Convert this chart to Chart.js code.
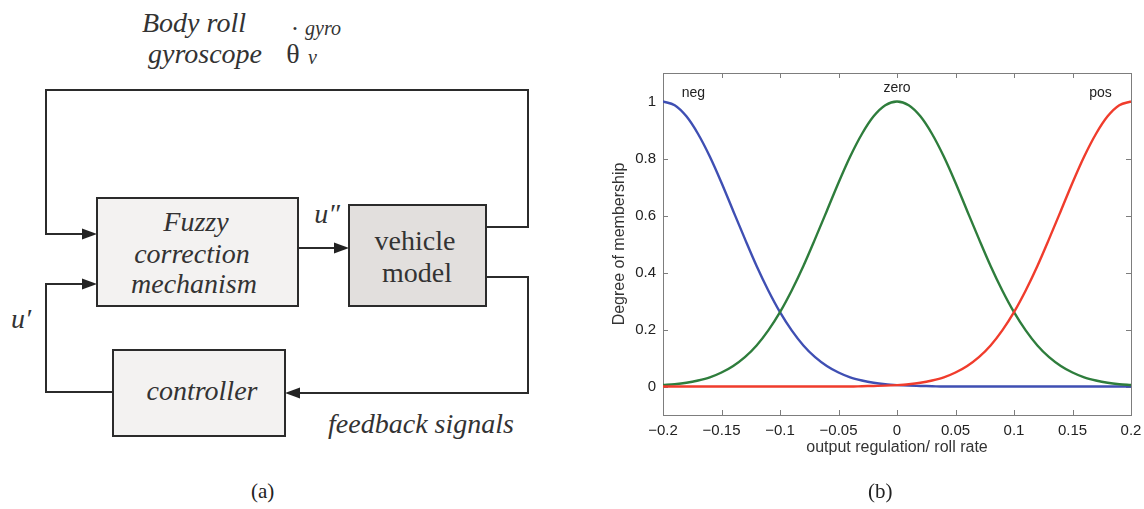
<!DOCTYPE html>
<html>
<head>
<meta charset="utf-8">
<script src="https://cdn.jsdelivr.net/npm/chart.js@4/dist/chart.umd.min.js"></script>
<style>
  body { margin: 0; background: #fff; }
  #page { position: relative; width: 1144px; height: 509px; overflow: hidden; background: #fff; }
  #diagram { position: absolute; left: 0; top: 0; }
  #diagram text { font-family: "Liberation Serif", "Times New Roman", serif; fill: #333; }
  #diagram .it { font-style: italic; font-size: 28px; }
  #diagram .up { font-size: 28px; }
  #diagram .sm { font-style: italic; font-size: 20px; }
  #wrap { position: absolute; left: 560px; top: 0; width: 584px; height: 509px; }
  .cap { position: absolute; font-family: "Liberation Serif", serif; font-size: 21px; color: #222; }
</style>
</head>
<body>
<div id="page">
  <svg id="diagram" width="560" height="509" xmlns="http://www.w3.org/2000/svg">
    <g fill="none" stroke="#2b2b2b" stroke-width="2">
      <polyline points="486,227 528,227 528,90 46,90 46,234 84,234" />
      <polyline points="113,392 46,392 46,284 84,284" />
      <line x1="298" y1="248" x2="336" y2="248" />
      <polyline points="486,277 528,277 528,393 298,393" />
    </g>
    <g fill="#222">
      <polygon points="97,234 82,228.5 82,239.5" />
      <polygon points="97,284 82,278.5 82,289.5" />
      <polygon points="349,248 334,242.5 334,253.5" />
      <polygon points="285,393 300,387.5 300,398.5" />
    </g>
    <rect x="97" y="198" width="201" height="108" fill="#f3f2f1" stroke="#2b2b2b" stroke-width="2" />
    <rect x="349" y="205" width="137" height="101" fill="#e2dfdd" stroke="#2b2b2b" stroke-width="2" />
    <rect x="113" y="350" width="172" height="86" fill="#f3f2f1" stroke="#2b2b2b" stroke-width="2" />
    <g text-anchor="middle">
      <text class="it" x="194" y="32">Body roll</text>
      <text class="it" x="205" y="63">gyroscope</text>
      <text class="it" x="196" y="231">Fuzzy</text>
      <text class="it" x="192" y="263">correction</text>
      <text class="it" x="194" y="293">mechanism</text>
      <text class="it" x="202" y="400">controller</text>
      <text class="it" x="421" y="433">feedback signals</text>
      <text class="it" x="327" y="223">u″</text>
      <text class="it" x="21" y="328">u′</text>
      <text class="up" x="415" y="250">vehicle</text>
      <text class="up" x="417" y="282">model</text>
      <text class="up" x="293" y="63">θ</text>
      <text class="up" x="295" y="45">˙</text>
    </g>
    <text class="sm" x="305" y="35">gyro</text>
    <text class="sm" x="308" y="64">v</text>
  </svg>
  <div class="cap" style="left:251px;top:479px;">(a)</div>
  <div id="wrap"><canvas id="myChart"></canvas></div>
  <div class="cap" style="left:868px;top:479px;">(b)</div>
</div>
<script>
// sample positions along the x axis
var xValues = [-0.2, -0.19, -0.18, -0.17, -0.16, -0.15, -0.14, -0.13, -0.12, -0.11,
  -0.1, -0.09, -0.08, -0.07, -0.06, -0.05, -0.04, -0.03, -0.02, -0.01,
  0, 0.01, 0.02, 0.03, 0.04, 0.05, 0.06, 0.07, 0.08, 0.09,
  0.1, 0.11, 0.12, 0.13, 0.14, 0.15, 0.16, 0.17, 0.18, 0.19, 0.2];

// membership values
var negValues = [1.000, 0.987, 0.948, 0.886, 0.807, 0.715, 0.616, 0.518, 0.423, 0.337,
  0.261, 0.197, 0.144, 0.103, 0.072, 0.049, 0.032, 0.021, 0.013, 0.008,
  0.005, 0.003, 0.002, 0.001, 0, 0, 0, 0, 0, 0,
  0, 0, 0, 0, 0, 0, 0, 0, 0, 0, 0];
var zeroValues = [0.005, 0.008, 0.013, 0.021, 0.032, 0.049, 0.072, 0.103, 0.144, 0.197,
  0.261, 0.337, 0.423, 0.518, 0.616, 0.715, 0.807, 0.886, 0.948, 0.987,
  1.000, 0.987, 0.948, 0.886, 0.807, 0.715, 0.616, 0.518, 0.423, 0.337,
  0.261, 0.197, 0.144, 0.103, 0.072, 0.049, 0.032, 0.021, 0.013, 0.008, 0.005];
var posValues = [0, 0, 0, 0, 0, 0, 0, 0, 0, 0,
  0, 0, 0, 0, 0, 0, 0, 0.001, 0.002, 0.003,
  0.005, 0.008, 0.013, 0.021, 0.032, 0.049, 0.072, 0.103, 0.144, 0.197,
  0.261, 0.337, 0.423, 0.518, 0.616, 0.715, 0.807, 0.886, 0.948, 0.987, 1.000];

var xTicks = [-0.2, -0.15, -0.1, -0.05, 0, 0.05, 0.1, 0.15, 0.2];
var xTickLabels = ['\u22120.2', '\u22120.15', '\u22120.1', '\u22120.05', '0', '0.05', '0.1', '0.15', '0.2'];
var yTicks = [0, 0.2, 0.4, 0.6, 0.8, 1];
var yTickLabels = ['0', '0.2', '0.4', '0.6', '0.8', '1'];

var curveNames = ['neg', 'zero', 'pos'];
var curveLabelX = [-0.174, 0, 0.174];
var curveLabelY = [1.03, 1.048, 1.03];

function toPoints(ys) {
    return xValues.map(function (x, i) { return { x: x, y: ys[i] }; });
}

// box round the plot with inward ticks on all sides, plus curve names
var frameTicks = {
    id: 'frameTicks',
    beforeDatasetsDraw: function (chart) {
        var ctx = chart.ctx, a = chart.chartArea;
        var xs = chart.scales.x, ys = chart.scales.y;
        ctx.save();
        ctx.strokeStyle = '#7d7d7d';
        ctx.lineWidth = 1;
        ctx.strokeRect(Math.round(a.left) + 0.5, Math.round(a.top) + 0.5,
            Math.round(a.right - a.left), Math.round(a.bottom - a.top));
        ctx.beginPath();
        xTicks.forEach(function (v) {
            var px = Math.round(xs.getPixelForValue(v)) + 0.5;
            ctx.moveTo(px, a.bottom); ctx.lineTo(px, a.bottom - 5);
            ctx.moveTo(px, a.top); ctx.lineTo(px, a.top + 5);
        });
        yTicks.forEach(function (v) {
            var py = Math.round(ys.getPixelForValue(v)) + 0.5;
            ctx.moveTo(a.left, py); ctx.lineTo(a.left + 5, py);
            ctx.moveTo(a.right, py); ctx.lineTo(a.right - 5, py);
        });
        ctx.stroke();
        ctx.restore();
    },
    afterDatasetsDraw: function (chart) {
        var ctx = chart.ctx;
        ctx.save();
        ctx.fillStyle = '#222';
        ctx.font = '14px "Liberation Sans", Arial, sans-serif';
        ctx.textAlign = 'center';
        ctx.textBaseline = 'middle';
        curveNames.forEach(function (name, i) {
            ctx.fillText(name, chart.scales.x.getPixelForValue(curveLabelX[i]),
                chart.scales.y.getPixelForValue(curveLabelY[i]));
        });
        ctx.restore();
    }
};

var tickFont = { family: '"Liberation Sans", Arial, sans-serif', size: 15 };
var titleFont = { family: '"Liberation Sans", Arial, sans-serif', size: 16 };

var ctx = document.getElementById('myChart').getContext('2d');
var chart = new Chart(ctx, {
    type: 'line',
    data: {
        datasets: [{
            label: 'neg',
            data: toPoints(negValues),
            borderColor: '#3f4fb3',
            order: 2
        }, {
            label: 'zero',
            data: toPoints(zeroValues),
            borderColor: '#2e7d3c',
            order: 1
        }, {
            label: 'pos',
            data: toPoints(posValues),
            borderColor: '#f03c2c',
            order: 0
        }]
    },
    options: {
        responsive: true,
        maintainAspectRatio: false,
        animation: false,
        layout: { padding: { left: 47, right: 13, top: 73, bottom: 44 } },
        elements: {
            point: { radius: 0 },
            line: { borderWidth: 2.4, cubicInterpolationMode: 'monotone', fill: false }
        },
        plugins: {
            legend: { display: false },
            tooltip: { enabled: false }
        },
        scales: {
            x: {
                type: 'linear',
                min: -0.2,
                max: 0.2,
                grid: { display: false, drawTicks: false },
                border: { display: false },
                afterBuildTicks: function (scale) {
                    scale.ticks = xTicks.map(function (v) { return { value: v }; });
                },
                afterFit: function (scale) {
                    scale.height = 50;
                    scale.paddingLeft = 0;
                    scale.paddingRight = 0;
                },
                ticks: {
                    padding: 7,
                    color: '#222',
                    font: tickFont,
                    maxRotation: 0,
                    autoSkip: false,
                    callback: function (value, index) { return xTickLabels[index]; }
                },
                title: {
                    display: true,
                    text: 'output regulation/ roll rate',
                    color: '#333',
                    font: titleFont,
                    padding: { top: 0, bottom: 8 }
                }
            },
            y: {
                min: -0.1,
                max: 1.1,
                grid: { display: false, drawTicks: false },
                border: { display: false },
                afterBuildTicks: function (scale) {
                    scale.ticks = yTicks.map(function (v) { return { value: v }; });
                },
                afterFit: function (scale) {
                    scale.width = 56;
                    scale.paddingTop = 0;
                    scale.paddingBottom = 0;
                },
                ticks: {
                    padding: 7,
                    color: '#222',
                    font: tickFont,
                    callback: function (value, index) { return yTickLabels[index]; }
                },
                title: {
                    display: true,
                    text: 'Degree of membership',
                    color: '#333',
                    font: titleFont,
                    padding: { top: 3, bottom: 0 }
                }
            }
        }
    },
    plugins: [frameTicks]
});
</script>
</body>
</html>
